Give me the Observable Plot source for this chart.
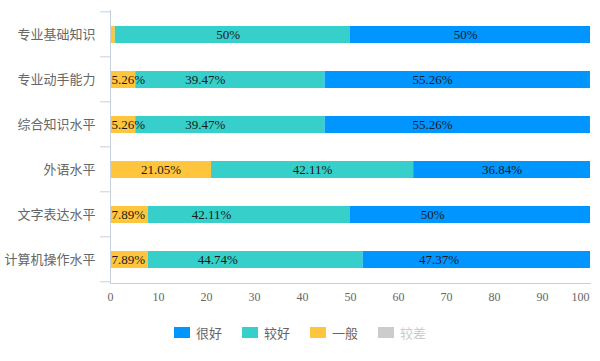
<!DOCTYPE html>
<html>
<head>
<meta charset="utf-8">
<script src="https://cdn.jsdelivr.net/npm/d3@7"></script>
<script src="https://cdn.jsdelivr.net/npm/@observablehq/plot@0.6"></script>
<style>
  body { margin: 0; background: #fff; width: 600px; height: 361px; overflow: hidden; }
  #chart svg { display: block; }
  g[aria-label="x-axis tick label"] text { font-family: "Liberation Serif", serif; }
  .legend { display: flex; justify-content: center; align-items: center; height: 14px; margin-top: 10px;
    font-family: "Noto Sans CJK SC", sans-serif; font-size: 13px; color: #666; }
  .legend .item { display: flex; align-items: center; margin: 0 10px; }
  .legend .sw { width: 16px; height: 11px; margin-right: 6px; }
</style>
</head>
<body>
<div id="chart"></div>
<div class="legend" id="legend"></div>
<script>
const categories = ["专业基础知识", "专业动手能力", "综合知识水平", "外语水平", "文字表达水平", "计算机操作水平"];
const levels = ["很好", "较好", "一般", "较差"];
const levelColors = ["#0095ff", "#36cfc9", "#ffc53d", "#cccccc"];
const levelActive = [true, true, true, false];

const generalValues = [1, 5.26, 5.26, 21.05, 7.89, 7.89];
const goodValues = [49, 39.47, 39.47, 42.11, 42.11, 44.74];
const veryGoodValues = [50, 55.26, 55.26, 36.84, 50, 47.37];

const generalLabels = ["", "5.26%", "5.26%", "21.05%", "7.89%", "7.89%"];
const goodLabels = ["50%", "39.47%", "39.47%", "42.11%", "42.11%", "44.74%"];
const veryGoodLabels = ["50%", "55.26%", "55.26%", "36.84%", "50%", "47.37%"];

const xTicks = [0, 10, 20, 30, 40, 50, 60, 70, 80, 90];
const xLastTick = [100];

const rows = [];
categories.forEach((c, i) => {
  rows.push({cat: c, level: "一般", value: generalValues[i], label: generalLabels[i]});
  rows.push({cat: c, level: "较好", value: goodValues[i], label: goodLabels[i]});
  rows.push({cat: c, level: "很好", value: veryGoodValues[i], label: veryGoodLabels[i]});
});

const axisColor = "#c6d0dc";
const pad = 0.63;

// band-boundary ticks on the y axis (drawn from the y scale)
function boundaryTicks() {
  return (index, scales, values, dimensions) => {
    const y = scales.y;
    const step = y(categories[1]) - y(categories[0]);
    const off = step * pad / 2;
    const g = d3.create("svg:g");
    const ys = categories.map(c => y(c) - off);
    ys.push(y(categories[categories.length - 1]) + step - off);
    const x0 = dimensions.marginLeft;
    for (const yy of ys) {
      g.append("line").attr("x1", x0 - 10).attr("x2", x0).attr("y1", yy).attr("y2", yy)
        .attr("stroke", axisColor);
    }
    return g.node();
  };
}

const chart = Plot.plot({
  width: 600,
  height: 315,
  marginTop: 10,
  marginBottom: 32,
  marginLeft: 110,
  marginRight: 10,
  style: {fontFamily: "'Noto Sans CJK SC', sans-serif", fontSize: "13px", background: "#fff"},
  x: {domain: [0, 100], label: null},
  y: {domain: categories, paddingInner: pad, paddingOuter: pad / 2, label: null},
  color: {domain: levels, range: levelColors},
  marks: [
    Plot.barX(rows, Plot.stackX({x: "value", y: "cat", fill: "level"})),
    Plot.ruleX([0], {stroke: axisColor}),
    Plot.frame({anchor: "bottom", stroke: axisColor}),
    boundaryTicks(),
    Plot.axisX({ticks: xTicks, tickSize: 0, tickPadding: 9, fontSize: 12, color: "#666", label: null}),
    Plot.axisX({ticks: xLastTick, tickSize: 0, tickPadding: 9, fontSize: 12, color: "#666", label: null, dx: -10}),
    Plot.axisY({tickSize: 0, tickPadding: 15, fontSize: 13, color: "#666", label: null}),
    Plot.text(rows.filter(d => !(d.level === "一般" && d.value < 10)),
      Plot.stackX({x: "value", y: "cat", text: "label", fill: "#1a1a1a", fontSize: 13,
        fontFamily: "'Liberation Serif', serif"})),
    Plot.text(rows.filter(d => d.level === "一般" && d.value < 10),
      {x: 0, y: "cat", text: "label", textAnchor: "start", dx: 1, fill: "#1a1a1a", fontSize: 13,
        fontFamily: "'Liberation Serif', serif"})
  ]
});
document.getElementById("chart").appendChild(chart);

const legend = document.getElementById("legend");
levels.forEach((l, i) => {
  const item = document.createElement("div");
  item.className = "item";
  const sw = document.createElement("div");
  sw.className = "sw";
  sw.style.background = levelColors[i];
  const t = document.createElement("span");
  t.textContent = l;
  if (!levelActive[i]) t.style.color = "#ccc";
  item.appendChild(sw);
  item.appendChild(t);
  legend.appendChild(item);
});
</script>
</body>
</html>
